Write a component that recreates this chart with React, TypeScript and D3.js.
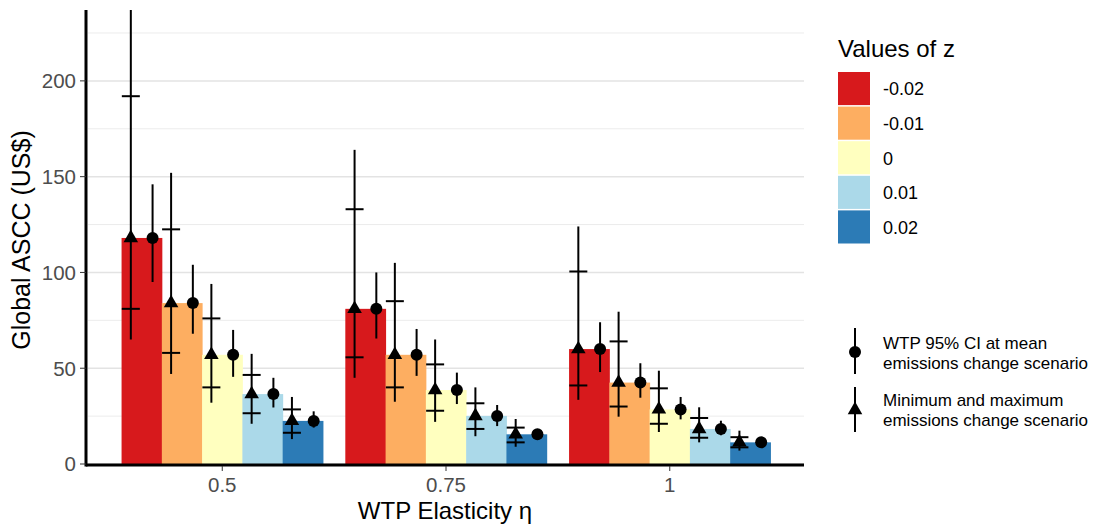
import React from 'react';
import * as d3 from 'd3';

const ETA_GROUPS = ['0.5', '0.75', '1'];
const Z_VALUES = ['-0.02', '-0.01', '0', '0.01', '0.02'];
const Z_COLORS = ['#d7191c', '#fdae61', '#ffffbf', '#abd9e9', '#2c7bb6'];

// rows = eta group, cols = z value
const ASCC_MEAN = [
  [118, 84, 57, 36.5, 22.5],
  [81, 57, 38.6, 25.1, 15.5],
  [60, 42.5, 28.5, 18.3, 11.3],
];
// WTP 95% CI at mean emissions change scenario (circle)
const MEAN_CI_LO = [
  [95, 68, 45.5, 29.5, 19],
  [65.5, 46, 31.3, 19.8, 14],
  [48, 34.6, 23.3, 15, 10.5],
];
const MEAN_CI_HI = [
  [146, 104, 70, 45, 27.5],
  [100, 70.5, 47.7, 30.8, 17.5],
  [74, 52.6, 35, 22.6, 13],
];
// min / max emissions change scenario (triangle): full range + scenario ticks
const SCEN_RANGE_LO = [
  [65, 47, 32, 21, 13],
  [45, 32.5, 22, 14.5, 9],
  [33.5, 24.7, 16.7, 11.3, 7],
];
const SCEN_RANGE_HI = [
  [250, 152, 94, 57.5, 35],
  [164, 105, 65, 40, 23.5],
  [124, 79.5, 48.7, 29.6, 17.4],
];
const SCEN_MIN = [
  [81, 58, 40, 26.5, 16.3],
  [55.7, 40, 27.8, 18.3, 11.3],
  [41, 30, 21, 13.7, 8.7],
];
const SCEN_MAX = [
  [192, 122.5, 76, 46.5, 28.5],
  [133, 85, 52, 31.7, 19],
  [100.5, 64, 39.5, 24, 14],
];
const Y_TICKS = [0, 50, 100, 150, 200];
const Y_MINOR = [25, 75, 125, 175, 225];

const FONT = '"Liberation Sans", Arial, Helvetica, sans-serif';
const W = 1101, H = 529;
const panel = { left: 88, right: 804, top: 10, bottom: 464 };

export default function App() {
  const x = d3.scaleBand().domain(ETA_GROUPS).range([panel.left, panel.right]).paddingInner(0.1).paddingOuter(0.15);
  const xz = d3.scaleBand().domain(Z_VALUES).range([0, x.bandwidth()]);
  const y = d3.scaleLinear().domain([0, 237]).range([panel.bottom, panel.top]);
  const off = xz.bandwidth() * 0.27;
  const tri = d3.symbol(d3.symbolTriangle, 92)();
  const tickHalf = 9;

  const marks: React.ReactNode[] = [];
  ETA_GROUPS.forEach((g, gi) => {
    Z_VALUES.forEach((z, zi) => {
      const x0 = (x(g) as number) + (xz(z) as number);
      const v = ASCC_MEAN[gi][zi];
      marks.push(<rect key={`b${gi}${zi}`} x={x0} y={y(v)} width={xz.bandwidth() + 0.5} height={panel.bottom - y(v)} fill={Z_COLORS[zi]} />);
    });
  });
  ETA_GROUPS.forEach((g, gi) => {
    Z_VALUES.forEach((z, zi) => {
      const cx = (x(g) as number) + (xz(z) as number) + xz.bandwidth() / 2;
      const v = ASCC_MEAN[gi][zi];
      const tx = cx - off, ccx = cx + off;
      marks.push(
        <g key={`e${gi}${zi}`} stroke="#000" strokeWidth={2}>
          <line x1={tx} x2={tx} y1={y(SCEN_RANGE_LO[gi][zi])} y2={y(SCEN_RANGE_HI[gi][zi])} />
          <line x1={tx - tickHalf} x2={tx + tickHalf} y1={y(SCEN_MIN[gi][zi])} y2={y(SCEN_MIN[gi][zi])} />
          <line x1={tx - tickHalf} x2={tx + tickHalf} y1={y(SCEN_MAX[gi][zi])} y2={y(SCEN_MAX[gi][zi])} />
          <path d={tri as string} transform={`translate(${tx},${y(v)})`} fill="#000" stroke="none" />
          <line x1={ccx} x2={ccx} y1={y(MEAN_CI_LO[gi][zi])} y2={y(MEAN_CI_HI[gi][zi])} />
          <circle cx={ccx} cy={y(v)} r={6} fill="#000" stroke="none" />
        </g>
      );
    });
  });

  const keyStep = 34.6;
  return (
    <svg width={W} height={H} style={{ position: 'absolute', left: 0, top: 0, background: '#fff' }} fontFamily={FONT}>
      <defs>
        <clipPath id="panelClip">
          <rect x={panel.left} y={panel.top} width={panel.right - panel.left} height={panel.bottom - panel.top + 2} />
        </clipPath>
      </defs>
      {Y_MINOR.map((t) => (
        <line key={`m${t}`} x1={panel.left} x2={panel.right} y1={y(t)} y2={y(t)} stroke="#ececec" strokeWidth={1} />
      ))}
      {Y_TICKS.map((t) => (
        <line key={`g${t}`} x1={panel.left} x2={panel.right} y1={y(t)} y2={y(t)} stroke="#e3e3e3" strokeWidth={1.5} />
      ))}
      <g clipPath="url(#panelClip)">{marks}</g>
      {/* axes */}
      <line x1={86} x2={86} y1={panel.top} y2={panel.bottom + 2.5} stroke="#000" strokeWidth={3} />
      <line x1={86} x2={panel.right} y1={panel.bottom + 1} y2={panel.bottom + 1} stroke="#000" strokeWidth={3} />
      {Y_TICKS.map((t) => (
        <g key={`yt${t}`}>
          <line x1={80} x2={86} y1={y(t)} y2={y(t)} stroke="#333" strokeWidth={1} />
          <text x={76} y={y(t)} dy="0.36em" textAnchor="end" fontSize={20.5} fill="#4d4d4d">{t}</text>
        </g>
      ))}
      {ETA_GROUPS.map((g) => {
        const cx = (x(g) as number) + x.bandwidth() / 2;
        return (
          <g key={`xt${g}`}>
            <line x1={cx} x2={cx} y1={panel.bottom + 2} y2={panel.bottom + 7} stroke="#333" strokeWidth={1} />
            <text x={cx} y={492} textAnchor="middle" fontSize={20.5} fill="#4d4d4d">{g}</text>
          </g>
        );
      })}
      <text x={445} y={519} textAnchor="middle" fontSize={24} fill="#000">WTP Elasticity η</text>
      <text transform="translate(30,240) rotate(-90)" textAnchor="middle" fontSize={25} fill="#000">Global ASCC (US$)</text>
      {/* fill legend */}
      <text x={838} y={57} fontSize={24} fill="#000">Values of z</text>
      {Z_VALUES.map((z, i) => (
        <g key={`k${z}`}>
          <rect x={838} y={72 + i * keyStep} width={32} height={keyStep - 1.5} fill={Z_COLORS[i]} />
          <text x={883} y={72 + i * keyStep + keyStep / 2 + 6} fontSize={18} fill="#000">{z}</text>
        </g>
      ))}
      {/* marker legend */}
      <g stroke="#000" strokeWidth={2}>
        <line x1={855} x2={855} y1={328} y2={374} />
        <circle cx={855} cy={352} r={6} fill="#000" stroke="none" />
        <line x1={855} x2={855} y1={387} y2={432} />
        <path d={tri as string} transform="translate(855,410)" fill="#000" stroke="none" />
      </g>
      <g fontSize={17} fill="#000">
        <text x={883} y={349}>WTP 95% CI at mean</text>
        <text x={883} y={369}>emissions change scenario</text>
        <text x={883} y={406}>Minimum and maximum</text>
        <text x={883} y={426}>emissions change scenario</text>
      </g>
    </svg>
  );
}
